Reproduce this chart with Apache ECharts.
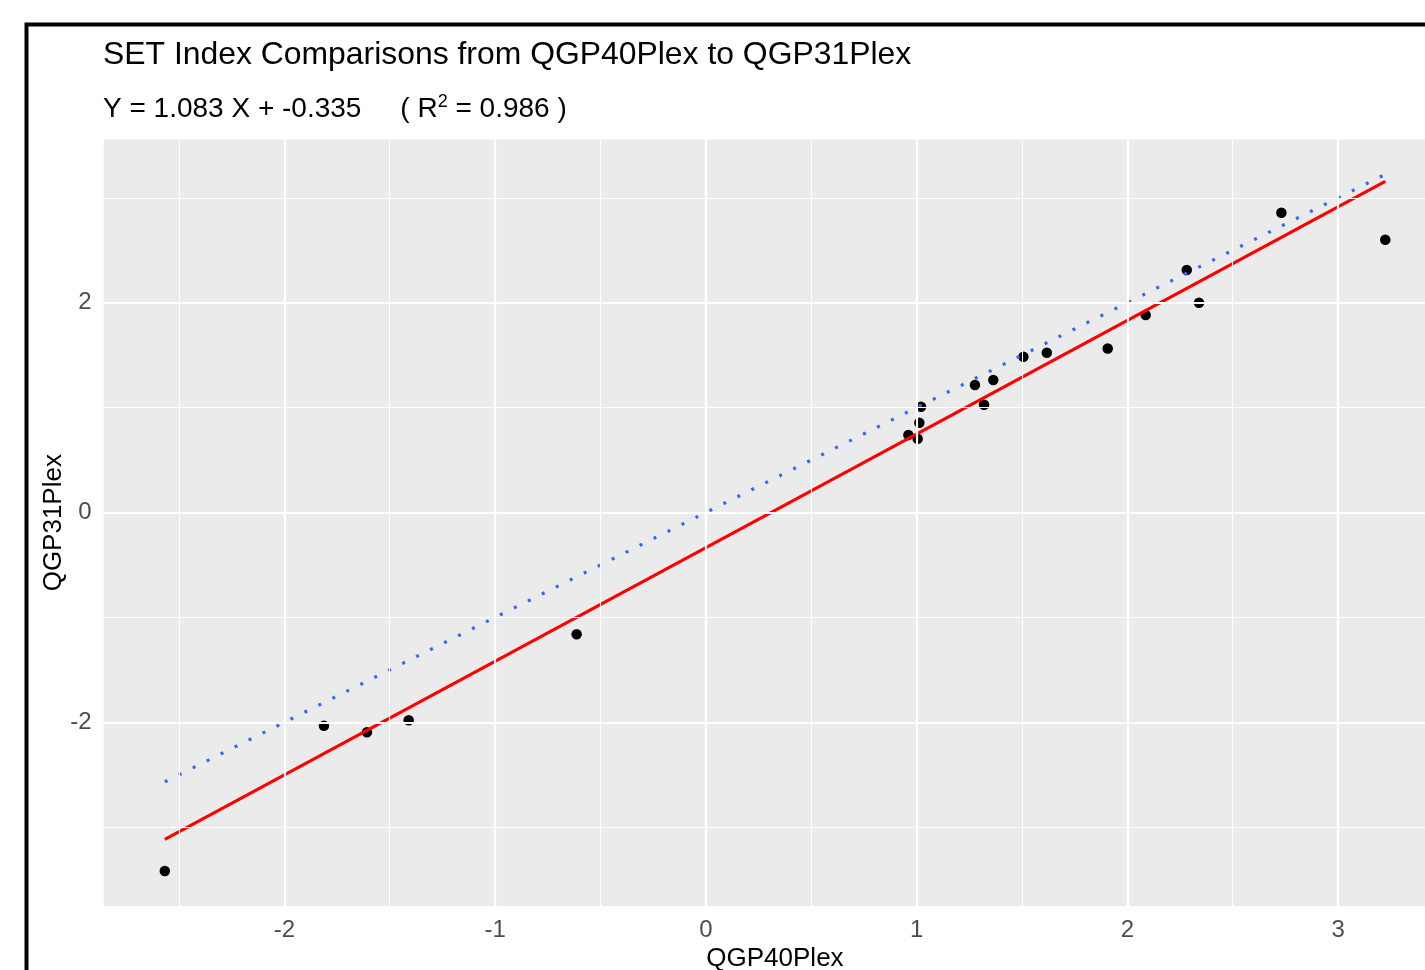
<!DOCTYPE html>
<html><head><meta charset="utf-8">
<script src="https://cdn.jsdelivr.net/npm/echarts@6/dist/echarts.min.js"></script>
<style>html,body{margin:0;padding:0;background:#fff}#c{width:1425px;height:970px}</style>
</head><body><div id="c"></div>
<script>
// Observed points (QGP40Plex -> QGP31Plex)
const xValues = [-2.567, -1.812, -1.608, -1.410, -0.613, 0.961, 1.005, 1.013, 1.021, 1.277, 1.320, 1.364, 1.507, 1.618, 1.907, 2.087, 2.282, 2.340, 2.731, 3.224];
const yValues = [-3.418, -2.032, -2.095, -1.981, -1.161, 0.739, 0.704, 0.856, 1.009, 1.215, 1.028, 1.263, 1.485, 1.523, 1.563, 1.883, 2.312, 2.000, 2.858, 2.601];
// Fitted regression line endpoints (red)
const fitX = [-2.567, 3.224];
const fitY = [-3.115, 3.157];
// Identity reference line endpoints (blue dotted)
const refX = [-2.567, 3.224];
const refY = [-2.567, 3.224];
// Axis ticks and grid
const xTicks = [-2, -1, 0, 1, 2, 3];
const yTicks = [-2, 0, 2];
const xMinor = [-2.5, -1.5, -0.5, 0.5, 1.5, 2.5, 3.5];
const yMinor = [-3, -1, 1, 3];
const titleText = 'SET Index Comparisons from QGP40Plex to QGP31Plex';
const eqText = 'Y = 1.083 X + -0.335';
const r2Text = '0.986';
const xName = 'QGP40Plex';
const yName = 'QGP31Plex';

const FONT = "'Liberation Sans', Arial, sans-serif";
const zip = (a, b) => a.map((v, i) => [v, b[i]]);

const chart = echarts.init(document.getElementById('c'), null, {renderer: 'canvas'});
chart.setOption({
  animation: false,
  backgroundColor: '#ffffff',
  title: [
    {text: titleText, left: 103, top: 39, padding: 0,
     textStyle: {fontFamily: FONT, fontSize: 31.9, fontWeight: 'normal', color: '#000'}},
    {text: eqText + '     ( R{sup|2} = ' + r2Text + ' )', left: 103, top: 93, padding: 0,
     textStyle: {fontFamily: FONT, fontSize: 28, fontWeight: 'normal', color: '#000',
       rich: {sup: {fontFamily: FONT, fontSize: 18, color: '#000', verticalAlign: 'top', padding: [0, 0, 14, 0]}}}}
  ],
  graphic: [
    {type: 'rect', left: 24, top: 22, shape: {x: 0, y: 0, width: 1500, height: 1000},
     style: {fill: 'none', stroke: '#000', lineWidth: 4}, silent: true, z: 100}
  ],
  grid: {left: 103.7, top: 139.5, width: 1342.5, height: 766.4, show: true,
         outerBoundsMode: 'none',
         backgroundColor: '#EBEBEB', borderWidth: 0, containLabel: false},
  xAxis: {
    type: 'value', min: -2.857, max: 3.513,
    name: xName, nameLocation: 'middle', nameGap: 40, nameMoveOverlap: false,
    nameTextStyle: {fontFamily: FONT, fontSize: 26, color: '#000'},
    axisLine: {show: false},
    axisTick: {show: true, length: 5, customValues: xTicks, lineStyle: {color: '#333', width: 1.5}},
    axisLabel: {customValues: xTicks, margin: 12, fontFamily: FONT, fontSize: 24, color: '#4D4D4D'},
    splitLine: {show: false}
  },
  yAxis: {
    type: 'value', min: -3.75, max: 3.556,
    name: yName, nameLocation: 'middle', nameGap: 37, nameRotate: 90, nameMoveOverlap: false,
    nameTextStyle: {fontFamily: FONT, fontSize: 26, color: '#000'},
    axisLine: {show: false},
    axisTick: {show: true, length: 6, customValues: yTicks, lineStyle: {color: '#333', width: 1.5}},
    axisLabel: {customValues: yTicks, margin: 12, fontFamily: FONT, fontSize: 24, color: '#4D4D4D'},
    splitLine: {show: false}
  },
  series: [
    {type: 'scatter', data: [], z: 1, silent: true,
     markLine: {silent: true, symbol: 'none', label: {show: false}, animation: false,
       data: [
         ...xMinor.map(v => ({xAxis: v, lineStyle: {color: '#fff', width: 1.1, type: 'solid'}})),
         ...yMinor.map(v => ({yAxis: v, lineStyle: {color: '#fff', width: 1.1, type: 'solid'}})),
         ...xTicks.map(v => ({xAxis: v, lineStyle: {color: '#fff', width: 2.2, type: 'solid'}})),
         ...yTicks.map(v => ({yAxis: v, lineStyle: {color: '#fff', width: 2.2, type: 'solid'}}))
       ]}},
    {type: 'scatter', name: 'points', data: zip(xValues, yValues), z: 2,
     symbol: 'circle', symbolSize: 10.5, itemStyle: {color: '#000', opacity: 1}},
    {type: 'line', name: 'identity', data: zip(refX, refY), z: 3, showSymbol: false,
     lineStyle: {color: '#3366FF', width: 3.2, type: [3, 12.6], cap: 'butt'}},
    {type: 'line', name: 'fit', data: zip(fitX, fitY), z: 4, showSymbol: false,
     lineStyle: {color: '#FF0000', width: 3.2, type: 'solid'}}
  ]
});
</script>
</body></html>
